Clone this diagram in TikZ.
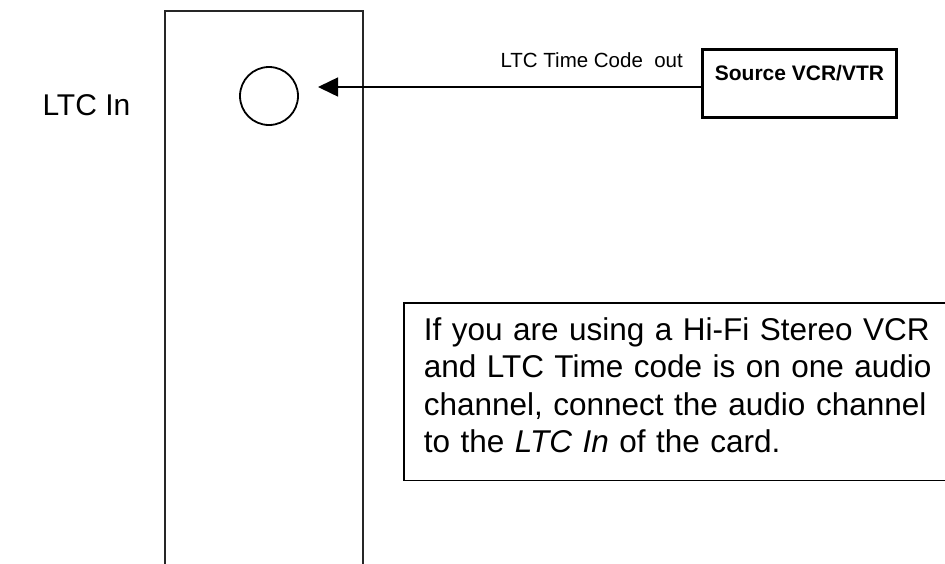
\documentclass[tikz,border=0pt]{standalone}
\usepackage{fontspec}
\setmainfont{Liberation Sans}
\usetikzlibrary{arrows.meta, positioning}

\begin{document}
\begin{tikzpicture}[
    x=1pt, y=-1pt,
    panel/.style={rectangle, draw=black!85, line width=1.8pt, minimum width=198pt,
                  minimum height=600pt, inner sep=0pt},
    jack/.style={circle, draw, line width=1.8pt, minimum size=58pt, inner sep=0pt},
    srcbox/.style={rectangle, draw, line width=3pt, minimum width=194pt,
                   text height=31pt, text depth=37pt, inner ysep=0pt,
                   font=\fontsize{21}{25}\selectfont\bfseries},
    note/.style={rectangle, draw, line width=1.6pt, align=left, text width=560pt,
                 inner xsep=20pt, inner ysep=15pt,
                 font=\fontsize{31.5}{37.3}\selectfont},
    lbl/.style={font=\fontsize{20.5}{24}\selectfont},
    sig/.style={-{Triangle[length=20pt, width=19pt]}, line width=1.5pt},
  ]
    \useasboundingbox (0,0) rectangle (945,563);
    \clip (0,0) rectangle (945,563);

    % card
    \node[panel, anchor=north west] (panel) at (164,10) {};
    \node[jack] (jack) at (269,96) {};
    \node[font=\fontsize{30}{36}\selectfont, anchor=base west] (ltcin) at (39,115) {LTC In};

    % source
    \node[srcbox, anchor=north west] (src) at (701,48) {Source VCR/VTR};
    \coordinate (tip) at (318,87);
    \draw[sig] (src.west |- tip) -- (tip);
    \node[lbl, anchor=base west] (tcout) at (497,67) {LTC Time Code\ \ out};

    % note
    \node[note, anchor=north west] (info) at (403,302)
      {If you are using a Hi-Fi Stereo VCR\\
       and LTC Time code is on one audio\\
       channel, connect the audio channel\\
       to the \textit{LTC In} of the card.\rule[-13pt]{0pt}{0pt}};
  \end{tikzpicture}
\end{document}
